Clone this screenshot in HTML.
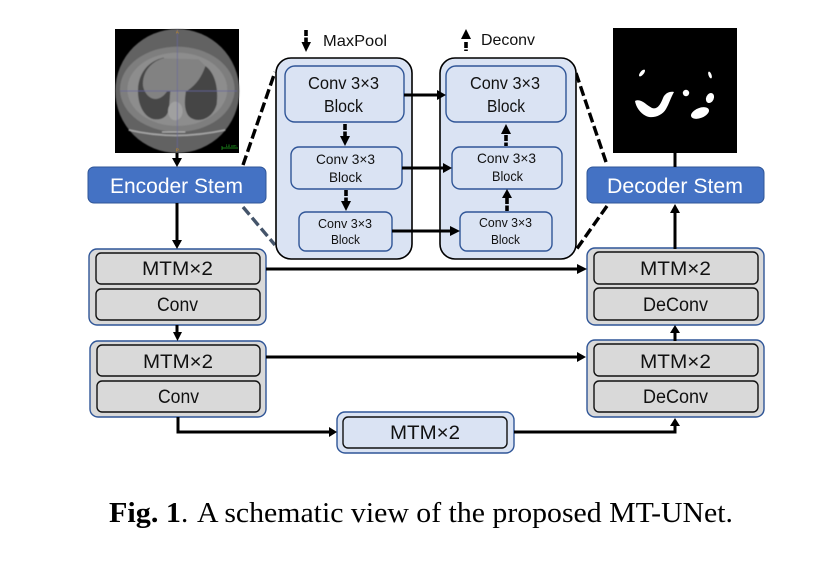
<!DOCTYPE html>
<html><head><meta charset="utf-8"><style>
html,body{margin:0;padding:0;background:#fff;width:836px;height:562px;overflow:hidden}
svg{display:block}
.s{font-family:"Liberation Sans",sans-serif;fill:#111}
.c{font-family:"Liberation Serif",serif;fill:#000;font-size:29px}
</style></head><body>
<svg width="836" height="562" viewBox="0 0 836 562" xmlns="http://www.w3.org/2000/svg">
<defs><filter id="b"><feGaussianBlur stdDeviation="1.2"/></filter></defs>
<!-- CT -->
<rect x="115" y="29" width="124" height="124" fill="#000"/>
<g transform="translate(112,26) scale(.3333)">
<g filter="url(#b)">
<circle cx="196" cy="195" r="186" fill="#626262"/>
<ellipse cx="196" cy="190" rx="172" ry="128" fill="#7e7e7e"/>
<ellipse cx="196" cy="190" rx="150" ry="110" fill="#8d8d8d"/>
<path d="M155,95C110,105 80,140 78,190C76,240 100,278 130,280C160,282 172,262 172,235L175,195Z" fill="#474747"/>
<path d="M280,120C310,140 320,190 314,235C300,285 250,292 230,270C215,250 218,220 222,195C250,180 270,150 280,120Z" fill="#444"/>
<path d="M152,97C115,108 90,140 93,180C100,215 135,238 165,197L195,195L225,195C255,175 270,150 280,120L260,100Z" fill="#828282"/>
<ellipse cx="190" cy="255" rx="22" ry="28" fill="#a0a0a0"/>
<path d="M50,312Q190,345 340,312" fill="none" stroke="#a5a5a5" stroke-width="5"/>
<path d="M150,318L220,318" stroke="#b0b0b0" stroke-width="4"/>
<path d="M25,195H375M196,10V375" stroke="#66669a" stroke-width="2"/>
</g>
<text x="196" y="23" text-anchor="middle" font-family="Liberation Sans" font-weight="bold" font-size="13" fill="#b8862a">A</text>
<text x="196" y="376" text-anchor="middle" font-family="Liberation Sans" font-weight="bold" font-size="13" fill="#b8862a">P</text>
<text x="341" y="363" font-family="Liberation Sans" font-size="12" fill="#22aa22">10 cm</text>
<path d="M330,366H378M330,360V372" stroke="#22aa22" stroke-width="2"/>
</g>
<!-- Mask -->
<rect x="613" y="28" width="124" height="125" fill="#000"/>
<g fill="#fff">
<path d="M635,101C641,98 646,105 652,108C658,110 661,103 663,98C665,93 670,91 674,92C671,97 669,104 666,109C662,116 652,119 646,116C640,113 636,107 635,101Z"/>
<circle cx="686" cy="93" r="3.2"/>
<ellipse cx="710" cy="98" rx="3.8" ry="5.2" transform="rotate(25 710 98)"/>
<ellipse cx="700" cy="113" rx="9.5" ry="5" transform="rotate(-22 700 113)"/>
<ellipse cx="642" cy="73" rx="1.8" ry="4.2" transform="rotate(40 642 73)"/>
<ellipse cx="710" cy="75" rx="1.5" ry="3.6" transform="rotate(-20 710 75)"/>
</g>
<!-- Dashes -->
<g fill="none" stroke-width="3.4" stroke-dasharray="10 4">
<path d="M243,165L275,72" stroke="#000"/>
<path d="M243,207L275,245" stroke="#44546a"/>
<path d="M576,73L607,165" stroke="#000"/>
<path d="M607,206L576,250" stroke="#000"/>
</g>
<!-- Panels -->
<g stroke="#000" stroke-width="1.6" fill="#dae3f3">
<rect x="276" y="58" width="136" height="201" rx="15"/>
<rect x="440" y="58" width="136" height="201" rx="15"/>
</g>
<g stroke="#2f5597" stroke-width="1.4" fill="#dae3f3">
<rect x="285" y="66" width="119" height="56" rx="10"/>
<rect x="291" y="147" width="111" height="42" rx="8"/>
<rect x="299" y="212" width="93" height="39" rx="7"/>
<rect x="446" y="66" width="120" height="56" rx="10"/>
<rect x="452" y="147" width="110" height="42" rx="8"/>
<rect x="460" y="212" width="92" height="39" rx="7"/>
</g>
<!-- Stems -->
<g stroke="#2f5597" stroke-width="1" fill="#4472c4">
<rect x="88" y="167" width="178" height="36" rx="6"/>
<rect x="587" y="167" width="177" height="36" rx="6"/>
</g>
<!-- Groups -->
<g stroke="#2f5597" stroke-width="1.4" fill="#d9d9d9">
<rect x="89" y="249" width="177" height="76" rx="8"/>
<rect x="90" y="341" width="176" height="76" rx="8"/>
<rect x="587" y="248" width="177" height="77" rx="8"/>
<rect x="587" y="340" width="177" height="77" rx="8"/>
<rect x="337" y="412" width="177" height="41" rx="8" fill="#dae3f3"/>
</g>
<g stroke="#111" stroke-width="1.4" fill="#d9d9d9">
<rect x="96" y="253" width="164" height="31" rx="5"/>
<rect x="96" y="289" width="164" height="31" rx="5"/>
<rect x="97" y="345" width="163" height="31" rx="5"/>
<rect x="97" y="381" width="163" height="31" rx="5"/>
<rect x="594" y="252" width="164" height="32" rx="5"/>
<rect x="594" y="288" width="164" height="32" rx="5"/>
<rect x="594" y="344" width="164" height="32" rx="5"/>
<rect x="594" y="381" width="164" height="31" rx="5"/>
<rect x="343" y="417" width="164" height="31" rx="5" fill="#dae3f3"/>
</g>
<!-- Connectors -->
<g fill="none" stroke="#000" stroke-width="3">
<path d="M177,153V160"/>
<path d="M177,203V241"/>
<path d="M177,325V333"/>
<path d="M178,417V432H329"/>
<path d="M514,432H675V426"/>
<path d="M675,341V333"/>
<path d="M675,249V212"/>
<path d="M675,153V167"/>
<path d="M266,269H578"/>
<path d="M266,357H578"/>
<path d="M404,95H438"/>
<path d="M402,168H444"/>
<path d="M392,231H451"/>
<g stroke-width="3.6" stroke-dasharray="6 1.5">
<path d="M306,30V43"/>
<path d="M466,42V51"/>
<path d="M345,124V137"/>
<path d="M346,190V202"/>
<path d="M506,135V146"/>
<path d="M507,198V211"/>
</g>
</g>
<g fill="#000">
<path d="M172,158H182L177,167Z"/>
<path d="M172,240H182L177,249Z"/>
<path d="M173,332H182L177.500,341Z"/>
<path d="M329,427L337,432L329,437Z"/>
<path d="M670,426L675,418L680,426Z"/>
<path d="M670,333L675,325L680,333Z"/>
<path d="M670,213L675,204L680,213Z"/>
<path d="M577,264L587,269L577,274Z"/>
<path d="M577,352L586,357L577,362Z"/>
<path d="M437,90L446,95L437,100Z"/>
<path d="M443,163L452,168L443,173Z"/>
<path d="M450,226L460,231L450,236Z"/>
<path d="M301.500,42H311L306,52Z"/>
<path d="M461,39H471L466,29Z"/>
<path d="M340,136H350L345,146Z"/>
<path d="M341,201H351L346,211Z"/>
<path d="M501,134H511L506,124Z"/>
<path d="M502,198H512L507,189Z"/>
</g>
<!-- Labels -->
<g class="s">
<text class="s" x="323" y="46" font-size="16" textLength="64" lengthAdjust="spacingAndGlyphs">MaxPool</text>
<text class="s" x="481" y="45" font-size="16" textLength="54" lengthAdjust="spacingAndGlyphs">Deconv</text>
<text class="s" x="308" y="89" font-size="17.500" textLength="71" lengthAdjust="spacingAndGlyphs">Conv 3×3</text>
<text class="s" x="324" y="112" font-size="17.500" textLength="39" lengthAdjust="spacingAndGlyphs">Block</text>
<text class="s" x="316" y="164" font-size="14" textLength="59" lengthAdjust="spacingAndGlyphs">Conv 3×3</text>
<text class="s" x="329" y="182" font-size="14" textLength="33" lengthAdjust="spacingAndGlyphs">Block</text>
<text class="s" x="318" y="228" font-size="12.500" textLength="54" lengthAdjust="spacingAndGlyphs">Conv 3×3</text>
<text class="s" x="331" y="244" font-size="12.500" textLength="29" lengthAdjust="spacingAndGlyphs">Block</text>
<text class="s" x="470" y="89" font-size="17.500" textLength="70" lengthAdjust="spacingAndGlyphs">Conv 3×3</text>
<text class="s" x="487" y="112" font-size="17.500" textLength="38" lengthAdjust="spacingAndGlyphs">Block</text>
<text class="s" x="477" y="163" font-size="14" textLength="59" lengthAdjust="spacingAndGlyphs">Conv 3×3</text>
<text class="s" x="492" y="181" font-size="14" textLength="31" lengthAdjust="spacingAndGlyphs">Block</text>
<text class="s" x="479" y="227" font-size="12.500" textLength="53" lengthAdjust="spacingAndGlyphs">Conv 3×3</text>
<text class="s" x="491" y="244" font-size="12.500" textLength="29" lengthAdjust="spacingAndGlyphs">Block</text>
<text x="110" y="193" font-size="21" style="fill:#fff" font-family="Liberation Sans" textLength="133" lengthAdjust="spacingAndGlyphs">Encoder Stem</text>
<text x="607" y="193" font-size="21" style="fill:#fff" font-family="Liberation Sans" textLength="136" lengthAdjust="spacingAndGlyphs">Decoder Stem</text>
<text class="s" x="142" y="275" font-size="19" textLength="71" lengthAdjust="spacingAndGlyphs">MTM×2</text>
<text class="s" x="157" y="311" font-size="19" textLength="41" lengthAdjust="spacingAndGlyphs">Conv</text>
<text class="s" x="143" y="368" font-size="19" textLength="70" lengthAdjust="spacingAndGlyphs">MTM×2</text>
<text class="s" x="158" y="403" font-size="19" textLength="41" lengthAdjust="spacingAndGlyphs">Conv</text>
<text class="s" x="640" y="275" font-size="19" textLength="71" lengthAdjust="spacingAndGlyphs">MTM×2</text>
<text class="s" x="643" y="311" font-size="19" textLength="65" lengthAdjust="spacingAndGlyphs">DeConv</text>
<text class="s" x="640" y="368" font-size="19" textLength="71" lengthAdjust="spacingAndGlyphs">MTM×2</text>
<text class="s" x="643" y="403" font-size="19" textLength="65" lengthAdjust="spacingAndGlyphs">DeConv</text>
<text class="s" x="390" y="439" font-size="19" textLength="70" lengthAdjust="spacingAndGlyphs">MTM×2</text>
</g>
<!-- Caption -->
<text class="c" x="109" y="522" font-weight="bold" textLength="72" lengthAdjust="spacingAndGlyphs">Fig. 1</text>
<text class="c" x="181" y="522">.</text>
<text class="c" x="197" y="522" textLength="536" lengthAdjust="spacingAndGlyphs">A schematic view of the proposed MT-UNet.</text>
</svg>
</body></html>
